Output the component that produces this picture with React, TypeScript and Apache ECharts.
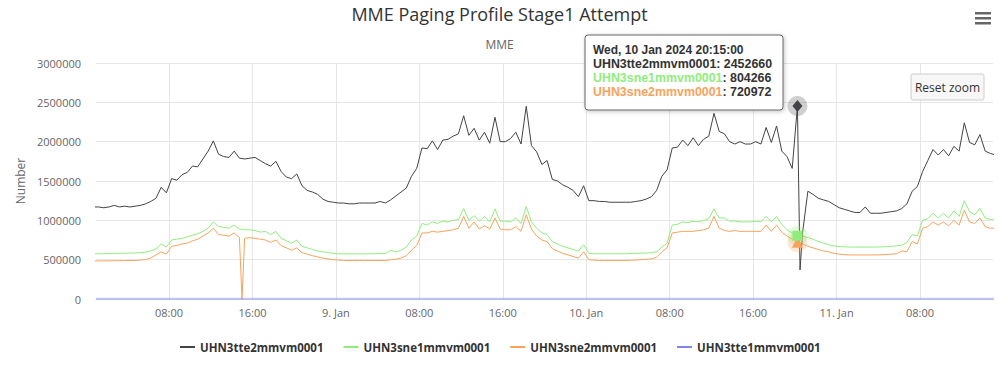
import React, { useEffect, useRef } from "react";
import * as echarts from "echarts";

const FONT = "'Open Sans', sans-serif";
const TIP_FONT = "'Liberation Sans', Arial, sans-serif";

const SERIES_NAMES = [
  "UHN3tte2mmvm0001",
  "UHN3sne1mmvm0001",
  "UHN3sne2mmvm0001",
  "UHN3tte1mmvm0001",
];
const COLORS = ["#434348", "#90ed7d", "#f7a35c", "#8085e9"];

// 30-minute samples, first sample Mon 8 Jan 2024 00:45
const START = Date.UTC(2024, 0, 8, 0, 45);
const STEP = 30 * 60 * 1000;
const X_MIN = Date.UTC(2024, 0, 8, 1, 0);
const X_MAX = Date.UTC(2024, 0, 11, 15, 0);

const tte2 = [
  1170000, 1170000, 1160000, 1170000, 1190000, 1170000, 1180000, 1170000, 1180000, 1190000,
  1210000, 1240000, 1280000, 1420000, 1350000, 1530000, 1510000, 1580000, 1610000, 1690000,
  1680000, 1780000, 1880000, 2010000, 1840000, 1810000, 1800000, 1880000, 1790000, 1780000,
  1790000, 1800000, 1760000, 1720000, 1690000, 1750000, 1620000, 1550000, 1530000, 1590000,
  1440000, 1380000, 1360000, 1330000, 1270000, 1240000, 1230000, 1220000, 1220000, 1210000,
  1210000, 1220000, 1220000, 1220000, 1220000, 1240000, 1220000, 1260000, 1310000, 1360000,
  1410000, 1560000, 1660000, 1920000, 1910000, 2010000, 1900000, 2020000, 2030000, 2070000,
  2100000, 2330000, 2080000, 2170000, 2020000, 2120000, 1980000, 2310000, 2000000, 2000000,
  2040000, 2120000, 1970000, 2450000, 1950000, 1870000, 1710000, 1760000, 1520000, 1500000,
  1450000, 1420000, 1380000, 1300000, 1440000, 1250000, 1250000, 1240000, 1240000, 1230000,
  1230000, 1230000, 1230000, 1230000, 1240000, 1250000, 1270000, 1300000, 1380000, 1560000,
  1640000, 1920000, 1930000, 2020000, 1950000, 2050000, 1950000, 2030000, 2070000, 2360000,
  2130000, 2100000, 2000000, 1970000, 2000000, 1970000, 1970000, 2000000, 1970000, 2180000,
  1990000, 2200000, 1880000, 1810000, 1660000, 2452660, 850000, 1370000, 1330000, 1280000,
  1260000, 1240000, 1200000, 1160000, 1140000, 1120000, 1100000, 1100000, 1170000, 1090000,
  1090000, 1090000, 1100000, 1110000, 1120000, 1150000, 1210000, 1370000, 1430000, 1620000,
  1760000, 1900000, 1830000, 1900000, 1820000, 1940000, 1880000, 2240000, 1990000, 1960000,
  2090000, 1880000, 1850000, 1830000,
];
const tte2Extra = [[Date.UTC(2024, 0, 10, 20, 30), 370000]];

const sne1 = [
  575000, 575000, 575000, 578000, 580000, 580000, 582000, 585000, 585000, 590000,
  595000, 610000, 635000, 700000, 660000, 750000, 760000, 770000, 790000, 810000,
  830000, 860000, 900000, 980000, 920000, 910000, 900000, 940000, 890000, 880000,
  880000, 870000, 850000, 860000, 820000, 860000, 770000, 740000, 710000, 750000,
  670000, 650000, 630000, 610000, 600000, 590000, 580000, 575000, 573000, 573000,
  573000, 573000, 573000, 575000, 575000, 578000, 580000, 620000, 600000, 620000,
  660000, 750000, 800000, 960000, 940000, 980000, 960000, 990000, 980000, 1000000,
  1010000, 1150000, 1000000, 1060000, 990000, 1050000, 980000, 1145000, 990000, 990000,
  980000, 1030000, 960000, 1175000, 980000, 900000, 840000, 820000, 730000, 700000,
  670000, 650000, 630000, 610000, 690000, 580000, 575000, 575000, 575000, 575000,
  575000, 575000, 575000, 578000, 580000, 582000, 585000, 590000, 600000, 660000,
  710000, 940000, 950000, 980000, 970000, 990000, 980000, 1000000, 1020000, 1145000,
  1030000, 1030000, 990000, 990000, 980000, 980000, 980000, 990000, 980000, 1050000,
  980000, 1050000, 950000, 880000, 836000, 804266, 800000, 780000, 760000, 730000,
  710000, 690000, 675000, 665000, 663000, 660000, 660000, 660000, 660000, 660000,
  660000, 662000, 665000, 670000, 675000, 685000, 720000, 820000, 800000, 1000000,
  1020000, 1090000, 1030000, 1090000, 1030000, 1120000, 1050000, 1250000, 1110000, 1070000,
  1150000, 1030000, 1010000, 1005000,
];

const sne2 = [
  485000, 485000, 485000, 485000, 487000, 487000, 488000, 490000, 490000, 495000,
  500000, 520000, 560000, 600000, 570000, 670000, 680000, 700000, 710000, 740000,
  760000, 800000, 840000, 900000, 820000, 810000, 800000, 840000, 780000, 770000,
  780000, 770000, 760000, 750000, 720000, 750000, 680000, 650000, 620000, 650000,
  590000, 570000, 550000, 535000, 520000, 510000, 500000, 495000, 490000, 490000,
  490000, 490000, 490000, 490000, 490000, 490000, 490000, 500000, 505000, 520000,
  550000, 620000, 680000, 840000, 840000, 860000, 850000, 860000, 870000, 880000,
  900000, 1050000, 900000, 980000, 890000, 930000, 890000, 1030000, 890000, 880000,
  880000, 920000, 860000, 1070000, 890000, 800000, 750000, 730000, 640000, 610000,
  580000, 560000, 540000, 520000, 600000, 500000, 495000, 490000, 490000, 490000,
  490000, 490000, 490000, 492000, 495000, 500000, 505000, 510000, 530000, 600000,
  650000, 840000, 850000, 860000, 860000, 860000, 870000, 880000, 900000, 1050000,
  900000, 870000, 860000, 870000, 860000, 860000, 860000, 860000, 860000, 940000,
  860000, 940000, 850000, 800000, 760000, 720972, 700000, 670000, 650000, 630000,
  610000, 600000, 580000, 570000, 565000, 560000, 560000, 560000, 560000, 560000,
  560000, 562000, 565000, 570000, 575000, 610000, 600000, 730000, 700000, 900000,
  920000, 980000, 940000, 980000, 930000, 1000000, 940000, 1130000, 980000, 960000,
  1030000, 920000, 900000, 900000,
];
const sne2Extra = [[Date.UTC(2024, 0, 8, 15, 0), 0]];

// 3-hourly samples from 01:00 on 8 Jan
const TTE1_START = Date.UTC(2024, 0, 8, 1, 0);
const TTE1_STEP = 3 * 3600 * 1000;
const tte1 = [
  3200, 3100, 3300, 3500, 3800, 4100, 3900, 3600, 3300, 3200,
  3100, 3400, 3700, 4000, 4200, 3900, 3500, 3300, 3100, 3000,
  3200, 3400, 3800, 4100, 3700, 3300, 3100, 3000, 3200, 3600,
];

const xTickTimes = [
  Date.UTC(2024, 0, 8, 8), Date.UTC(2024, 0, 8, 16), Date.UTC(2024, 0, 9, 0),
  Date.UTC(2024, 0, 9, 8), Date.UTC(2024, 0, 9, 16), Date.UTC(2024, 0, 10, 0),
  Date.UTC(2024, 0, 10, 8), Date.UTC(2024, 0, 10, 16), Date.UTC(2024, 0, 11, 0),
  Date.UTC(2024, 0, 11, 8),
];
const xTickLabels = ["08:00", "16:00", "9. Jan", "08:00", "16:00", "10. Jan", "08:00", "16:00", "11. Jan", "08:00"];

const Y_MIN = 0;
const Y_MAX = 3000000;
const Y_INTERVAL = 500000;

const HOVER_TIME = Date.UTC(2024, 0, 10, 20, 15);

const toPairs = (vals: number[], start: number, step: number) =>
  vals.map((v, i) => [start + i * step, v]);
const merge = (a: number[][], extra: number[][]) =>
  [...a, ...extra].sort((p, q) => p[0] - q[0]);

const WEEKDAYS = ["Sun", "Mon", "Tue", "Wed", "Thu", "Fri", "Sat"];
const MONTHS = ["Jan", "Feb", "Mar", "Apr", "May", "Jun", "Jul", "Aug", "Sep", "Oct", "Nov", "Dec"];
const pad = (n: number) => (n < 10 ? "0" + n : "" + n);
const fmtDate = (t: number) => {
  const d = new Date(t);
  return `${WEEKDAYS[d.getUTCDay()]}, ${d.getUTCDate()} ${MONTHS[d.getUTCMonth()]} ${d.getUTCFullYear()} ${pad(
    d.getUTCHours()
  )}:${pad(d.getUTCMinutes())}:${pad(d.getUTCSeconds())}`;
};

export default function App() {
  const ref = useRef<HTMLDivElement>(null);

  useEffect(() => {
    if (!ref.current) return;
    const chart = echarts.init(ref.current, undefined, { renderer: "svg" });

    const dataSets = [
      merge(toPairs(tte2, START, STEP), tte2Extra),
      toPairs(sne1, START, STEP),
      merge(toPairs(sne2, START, STEP), sne2Extra),
      toPairs(tte1, TTE1_START, TTE1_STEP),
    ];
    const hoverMarkers = ["diamond", "rect", "triangle"];
    const hoverSizes: any[] = [[10, 12], 10, 11];
    const hoverValues = [0, 1, 2].map((k) => {
      const p = dataSets[k].find((q) => q[0] === HOVER_TIME);
      return p ? p[1] : 0;
    });

    // hover halos first, then the symbols (triangle, square, diamond)
    const markData: any[] = [];
    [0, 1, 2].forEach((k) =>
      markData.push({
        coord: [HOVER_TIME, hoverValues[k]],
        symbol: "circle",
        symbolSize: 20,
        itemStyle: { color: COLORS[k], opacity: 0.25 },
      })
    );
    [2, 1, 0].forEach((k) =>
      markData.push({
        coord: [HOVER_TIME, hoverValues[k]],
        symbol: hoverMarkers[k],
        symbolSize: hoverSizes[k],
        itemStyle: { color: COLORS[k] },
      })
    );

    const series: any[] = dataSets.map((data, k) => {
      const s: any = {
        name: SERIES_NAMES[k],
        type: "line",
        data,
        showSymbol: false,
        symbol: "circle",
        lineStyle: { width: k === 3 ? 2 : 1, color: COLORS[k], opacity: k === 3 ? 0.45 : 1 },
        itemStyle: { color: COLORS[k] },
        z: k === 0 ? 4 : 3,
        silent: true,
      };
      if (k === 0) {
        s.markPoint = { silent: true, label: { show: false }, data: markData };
      }
      return s;
    });

    const tipLines = [0, 1, 2].map((k) => ({
      name: SERIES_NAMES[k],
      value: String(hoverValues[k]),
      color: k === 0 ? "#333333" : COLORS[k],
    }));

    const TZ = 100;
    const tooltipGroup = {
      type: "group",
      x: 585,
      y: 35,
      z: TZ,
      children: [
        {
          type: "rect",
          z: TZ,
          shape: { x: 0, y: 0, width: 198, height: 75, r: 3 },
          style: {
            fill: "rgba(255,255,255,0.95)",
            stroke: "#666666",
            lineWidth: 1,
            shadowBlur: 4,
            shadowColor: "rgba(0,0,0,0.25)",
            shadowOffsetX: 1,
            shadowOffsetY: 1,
          },
        },
        {
          type: "text",
          z: TZ + 1,
          x: 8,
          y: 15,
          style: {
            text: fmtDate(HOVER_TIME),
            fill: "#333333",
            fontFamily: TIP_FONT,
            fontSize: 12,
            fontWeight: "bold",
            verticalAlign: "middle",
          },
        },
        ...tipLines.map((l, i) => ({
          type: "text",
          z: TZ + 1,
          x: 8,
          y: 28.6 + i * 14,
          style: {
            text: `{n|${l.name}}{v|: ${l.value}}`,
            verticalAlign: "middle",
            rich: {
              n: { fill: l.color, fontFamily: TIP_FONT, fontSize: 12.4, fontWeight: "bold" },
              v: { fill: "#333333", fontFamily: TIP_FONT, fontSize: 12.4, fontWeight: "bold" },
            },
          },
        })),
      ],
    };

    const option: any = {
      animation: false,
      textStyle: { fontFamily: FONT },
      title: [
        {
          text: "MME Paging Profile Stage1 Attempt",
          left: "center",
          top: 3,
          padding: 0,
          textStyle: { fontFamily: FONT, fontSize: 18, fontWeight: "normal", color: "#333333", lineHeight: 22 },
        },
        {
          text: "MME",
          left: "center",
          top: 37,
          padding: 0,
          textStyle: { fontFamily: FONT, fontSize: 12, fontWeight: "normal", color: "#666666", lineHeight: 14 },
        },
      ],
      legend: {
        left: 180,
        top: 340,
        padding: 0,
        itemGap: 20,
        itemWidth: 15,
        itemHeight: 2,
        icon: "rect",
        selectedMode: false,
        data: SERIES_NAMES,
        textStyle: { fontFamily: FONT, fontSize: 11.5, fontWeight: "bold", color: "#333333", lineHeight: 14 },
      },
      grid: { left: 96, right: 6, top: 63, bottom: 72, containLabel: false, outerBoundsMode: "none" },
      xAxis: {
        type: "value",
        min: X_MIN,
        max: X_MAX,
        axisLine: { show: true, lineStyle: { color: "#ccd6eb" } },
        axisTick: { show: false, customValues: xTickTimes },
        axisLabel: {
          customValues: xTickTimes,
          formatter: (v: number) => {
            const i = xTickTimes.indexOf(v);
            return i >= 0 ? xTickLabels[i] : "";
          },
          color: "#666666",
          fontSize: 11,
          fontFamily: FONT,
          margin: 8,
        },
        splitLine: { show: true, lineStyle: { color: "#e6e6e6", width: 1 } },
      },
      yAxis: {
        type: "value",
        min: Y_MIN,
        max: Y_MAX,
        interval: Y_INTERVAL,
        name: "Number",
        nameLocation: "middle",
        nameRotate: 90,
        nameGap: 70,
        nameTextStyle: { color: "#666666", fontSize: 12, fontFamily: FONT },
        axisLine: { show: false },
        axisTick: { show: false },
        axisLabel: {
          formatter: (v: number) => String(v),
          color: "#666666",
          fontSize: 11,
          fontFamily: FONT,
          margin: 15,
        },
        splitLine: { lineStyle: { color: "#e6e6e6", width: 1 } },
      },
      series,
      graphic: [
        {
          type: "group",
          x: 975,
          y: 12,
          children: [0, 5, 10].map((dy) => ({
            type: "rect",
            shape: { x: 0, y: dy, width: 16, height: 2.5 },
            style: { fill: "#666666" },
          })),
        },
        {
          type: "group",
          x: 911,
          y: 74,
          z: TZ,
          children: [
            {
              type: "rect",
              z: TZ,
              shape: { x: 0, y: 0, width: 73, height: 26, r: 2 },
              style: { fill: "#f7f7f7", stroke: "#cccccc", lineWidth: 1 },
            },
            {
              type: "text",
              z: TZ + 1,
              x: 36.5,
              y: 13,
              style: {
                text: "Reset zoom",
                fill: "#333333",
                fontFamily: FONT,
                fontSize: 12,
                align: "center",
                verticalAlign: "middle",
              },
            },
          ],
        },
        tooltipGroup,
      ],
    };

    chart.setOption(option);
    return () => chart.dispose();
  }, []);

  return (
    <div
      ref={ref}
      style={{ position: "fixed", left: 0, top: 0, width: 999, height: 371, background: "#ffffff" }}
    />
  );
}
